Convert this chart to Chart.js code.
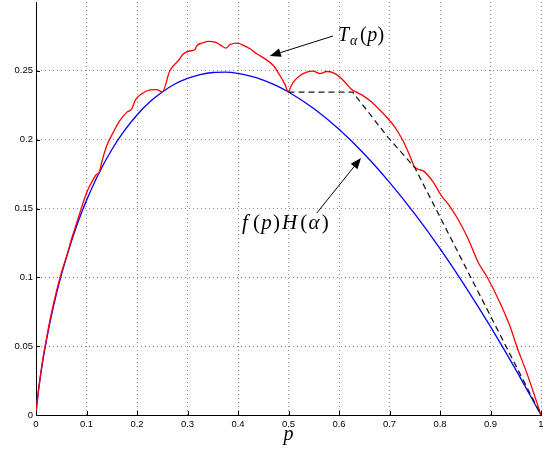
<!DOCTYPE html>
<html><head><meta charset="utf-8">
<script src="https://cdn.jsdelivr.net/npm/chart.js@4.4.1/dist/chart.umd.min.js"></script>
<style>html,body{margin:0;padding:0;background:#fff;}#wrap{width:551px;height:449px;}</style>
</head><body><div id="wrap"><canvas id="c" width="551" height="449"></canvas></div>
<script>
// ---- axis ticks ----
const xTicks = [0, 0.1, 0.2, 0.3, 0.4, 0.5, 0.6, 0.7, 0.8, 0.9, 1];
const xTickLabels = ['0', '0.1', '0.2', '0.3', '0.4', '0.5', '0.6', '0.7', '0.8', '0.9', '1'];
const yTicks = [0, 0.05, 0.1, 0.15, 0.2, 0.25];
const yTickLabels = ['0', '0.05', '0.1', '0.15', '0.2', '0.25'];

// ---- blue curve f(p)H(alpha) ----
const pBlue = [0, 0.001, 0.0025, 0.005, 0.0075, 0.01, 0.015, 0.02, 0.025, 0.03, 0.04, 0.05, 0.0625, 0.075, 0.0875, 0.1, 0.125, 0.15, 0.175, 0.2, 0.225, 0.25, 0.275, 0.3, 0.325, 0.35, 0.375, 0.4, 0.425, 0.45, 0.475, 0.5, 0.55, 0.6, 0.65, 0.7, 0.75, 0.8, 0.85, 0.9, 0.95, 1];
const blueValues = [0, 0.0047, 0.0101, 0.0179, 0.0248, 0.0312, 0.0427, 0.0530, 0.0624, 0.0712, 0.0872, 0.1014, 0.1173, 0.1315, 0.1443, 0.1559, 0.1760, 0.1927, 0.2065, 0.2179, 0.2273, 0.2346, 0.2404, 0.2445, 0.2473, 0.2488, 0.2490, 0.2481, 0.2462, 0.2433, 0.2394, 0.2346, 0.2226, 0.2075, 0.1896, 0.1690, 0.1461, 0.1209, 0.0935, 0.0642, 0.0330, 0];

// ---- red curve T_alpha(p) ----
const pRed = [0, 0.001, 0.0025, 0.005, 0.0075, 0.01, 0.015, 0.02, 0.025, 0.03, 0.04, 0.05, 0.0625, 0.07, 0.0775, 0.087, 0.1, 0.1135, 0.12, 0.125,
  0.13, 0.14, 0.153, 0.166, 0.18, 0.19, 0.196, 0.209, 0.226, 0.239, 0.25,
  0.265, 0.282, 0.292, 0.3036, 0.315, 0.318, 0.331, 0.341, 0.3545, 0.364, 0.376, 0.384, 0.3987, 0.4105, 0.4238, 0.437, 0.4535, 0.47, 0.483, 0.4925, 0.5,
  0.5045, 0.5095, 0.523, 0.536, 0.549, 0.562, 0.5756, 0.589, 0.602, 0.615, 0.625, 0.635, 0.645, 0.661, 0.681, 0.694, 0.711, 0.727, 0.7406, 0.7505,
  0.767, 0.787, 0.803, 0.8166, 0.836, 0.855, 0.876, 0.8925, 0.919, 0.9386, 0.952, 0.972, 1];
const redValues = [0, 0.005, 0.0105, 0.0185, 0.0255, 0.032, 0.044, 0.054, 0.064, 0.073, 0.089, 0.103, 0.1173, 0.1275, 0.136, 0.147, 0.1613, 0.1713, 0.1748, 0.176,
  0.1834, 0.1956, 0.2053, 0.2138, 0.220, 0.2225, 0.2284, 0.2332, 0.2361, 0.2364, 0.2346,
  0.250, 0.2575, 0.2624, 0.2644, 0.2655, 0.268, 0.2704, 0.2714, 0.2709, 0.269, 0.2665, 0.269, 0.2701, 0.2685, 0.266, 0.2624, 0.2587, 0.2539, 0.2466, 0.2405, 0.2346,
  0.2385, 0.2418, 0.2466, 0.249, 0.2498, 0.248, 0.2495, 0.2485, 0.2454, 0.2405, 0.2364, 0.2345, 0.2325, 0.2284, 0.2215, 0.2165, 0.209, 0.199, 0.188, 0.1798,
  0.1773, 0.1689, 0.1591, 0.153, 0.142, 0.1285, 0.1106, 0.1008, 0.0814, 0.0644, 0.0498, 0.0304, 0];

// ---- dashed black curve ----
const pDash = [0.5, 0.627, 0.697, 0.75, 1];
const dashValues = [0.2346, 0.2346, 0.2017, 0.1798, 0];

// ---- annotations (data coordinates) ----
const labelT = { at: [0.598, 0.2717], size: 20, pieces: [
  { t: 'T', it: true, adv: 0.6 }, { t: 'α', it: true, sc: 0.7, dy: 0.22, adv: 0.5 },
  { t: '(', adv: 0.36 }, { t: 'p', it: true, adv: 0.52 }, { t: ')', adv: 0.36 } ] };
const labelF = { at: [0.408, 0.1351], size: 21, pieces: [
  { t: 'f', it: true, adv: 0.52 }, { t: '(', adv: 0.39 }, { t: 'p', it: true, adv: 0.56 }, { t: ')', adv: 0.43 },
  { t: 'H', it: true, adv: 0.87 }, { t: '(', adv: 0.39 }, { t: 'α', it: true, adv: 0.63 }, { t: ')', adv: 0.38 } ] };
const arrowT = { from: [0.588, 0.2753], to: [0.463, 0.2608] };
const arrowF = { from: [0.556, 0.1467], to: [0.6436, 0.1867] };

const pts = (xs, ys) => xs.map((x, i) => ({ x: x, y: ys[i] }));
const SERIF = '"Liberation Serif", "Times New Roman", "DejaVu Serif", serif';

function drawMath(ctx, x, y, lab) {
  let cx = x;
  const s = lab.size;
  lab.pieces.forEach(pc => {
    const fs = s * (pc.sc || 1);
    ctx.font = (pc.it ? 'italic ' : '') + fs + 'px ' + SERIF;
    ctx.fillText(pc.t, cx, y + (pc.dy || 0) * s);
    cx += pc.adv * s;
  });
}
function drawArrow(ctx, x1, y1, x2, y2) {
  const ang = Math.atan2(y2 - y1, x2 - x1);
  const L = 11, W = 4.3;
  const bx = x2 - L * Math.cos(ang), by = y2 - L * Math.sin(ang);
  ctx.beginPath(); ctx.moveTo(x1, y1); ctx.lineTo(bx, by); ctx.stroke();
  ctx.beginPath();
  ctx.moveTo(x2, y2);
  ctx.lineTo(bx + W * Math.sin(ang), by - W * Math.cos(ang));
  ctx.lineTo(bx - W * Math.sin(ang), by + W * Math.cos(ang));
  ctx.closePath(); ctx.fill();
}

const decor = {
  id: 'decor',
  afterDraw(chart) {
    const { ctx, chartArea: a, scales: { x, y } } = chart;
    ctx.save();
    ctx.strokeStyle = '#000'; ctx.fillStyle = '#000'; ctx.lineWidth = 1;
    ctx.beginPath();
    xTicks.forEach(v => { const px = Math.round(x.getPixelForValue(v)) + 0.5; ctx.moveTo(px, a.bottom); ctx.lineTo(px, a.bottom - 4); });
    yTicks.forEach(v => { const py = Math.round(y.getPixelForValue(v)) + 0.5; ctx.moveTo(a.left, py); ctx.lineTo(a.left + 4, py); });
    ctx.stroke();
    [arrowT, arrowF].forEach(ar => drawArrow(ctx,
      x.getPixelForValue(ar.from[0]), y.getPixelForValue(ar.from[1]),
      x.getPixelForValue(ar.to[0]), y.getPixelForValue(ar.to[1])));
    ctx.textBaseline = 'alphabetic'; ctx.textAlign = 'left';
    [labelT, labelF].forEach(l => drawMath(ctx, x.getPixelForValue(l.at[0]), y.getPixelForValue(l.at[1]), l));
    ctx.restore();
  }
};

const tickFont = { family: '"Liberation Sans", Arial, Helvetica, sans-serif', size: 9.5 };

new Chart(document.getElementById('c'), {
  type: 'scatter',
  data: { datasets: [
    { label: 'dashed', data: pts(pDash, dashValues), showLine: true, borderColor: '#1a1a1a', borderWidth: 1.3, borderDash: [6, 4], pointRadius: 0, fill: false },
    { label: 'T_alpha(p)', data: pts(pRed, redValues), showLine: true, cubicInterpolationMode: 'monotone', borderColor: '#ff0000', borderWidth: 1.3, pointRadius: 0, fill: false },
    { label: 'f(p)H(alpha)', data: pts(pBlue, blueValues), showLine: true, cubicInterpolationMode: 'monotone', borderColor: '#0000ff', borderWidth: 1.3, pointRadius: 0, fill: false }
  ] },
  options: {
    responsive: false, animation: false, devicePixelRatio: 1,
    layout: { padding: { top: 2, right: 10, left: 0, bottom: 0 } },
    plugins: { legend: { display: false }, tooltip: { enabled: false } },
    elements: { line: { tension: 0 }, point: { radius: 0 } },
    scales: {
      x: {
        type: 'linear', min: 0, max: 1,
        afterBuildTicks: s => { s.ticks = xTicks.map(v => ({ value: v })); },
        afterFit: s => { s.height = 34; s.paddingLeft = 0; s.paddingRight = 0; },
        grid: { color: '#8c8c8c', lineWidth: 1, drawTicks: false },
        border: { display: true, color: '#000', width: 1, dash: [1, 3] },
        ticks: { padding: 4, autoSkip: false, maxRotation: 0, color: '#000', font: tickFont, callback: (v, i) => xTickLabels[i] },
        title: { display: true, text: 'p', color: '#000', font: { family: SERIF, style: 'italic', size: 20 }, padding: { top: 0, bottom: 2 } }
      },
      y: {
        type: 'linear', min: 0, max: 0.3,
        afterBuildTicks: s => { s.ticks = yTicks.map(v => ({ value: v })); },
        afterFit: s => { s.width = 36; s.paddingTop = 0; s.paddingBottom = 0; },
        grid: { color: '#8c8c8c', lineWidth: 1, drawTicks: false },
        border: { display: true, color: '#000', width: 1, dash: [1, 3] },
        ticks: { padding: 3, color: '#000', font: tickFont, callback: (v, i) => yTickLabels[i] }
      }
    }
  },
  plugins: [decor]
});
</script>
</body></html>
